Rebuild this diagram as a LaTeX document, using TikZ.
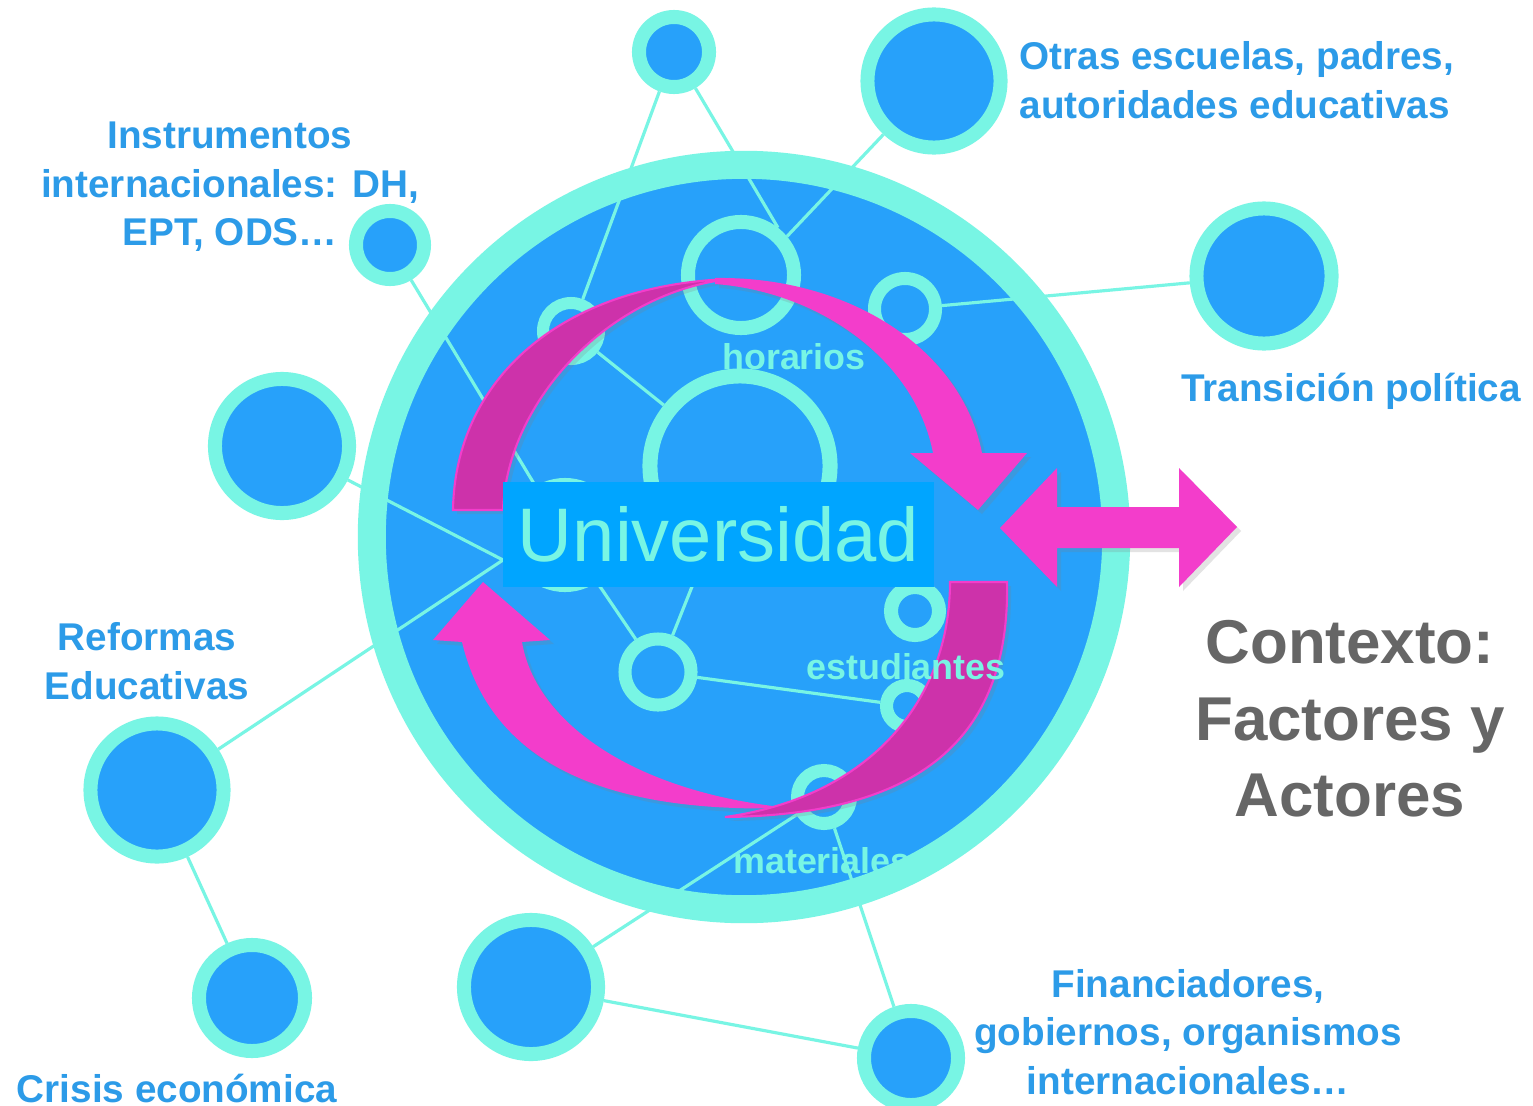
\documentclass[tikz,border=0pt]{standalone}
\usepackage{fontspec}
\setmainfont{Liberation Sans}
\usetikzlibrary{backgrounds, shadows}

\definecolor{ringcyan}{HTML}{78F5E4}
\definecolor{fillblue}{HTML}{27A1FA}
\definecolor{boxblue}{HTML}{00A5FF}
\definecolor{labelblue}{HTML}{2C9BE8}
\definecolor{ctxgray}{HTML}{666666}
\definecolor{pinklight}{HTML}{F33DCB}
\definecolor{pinkdark}{HTML}{CD32AA}

\tikzset{
  sat/.style={circle, fill=fillblue, draw=ringcyan, line width=0.14cm, inner sep=0pt},
  cell/.style={circle, fill=fillblue, draw=ringcyan, line width=0.13cm, inner sep=0pt},
  link/.style={draw=ringcyan, line width=0.9pt},
  lbl/.style={text=labelblue, font=\fontsize{11}{13.8}\selectfont\bfseries, align=center, inner sep=0pt},
  tag/.style={text=ringcyan, font=\fontsize{10.2}{12}\selectfont\bfseries, inner sep=0pt},
  ribbon/.style={drop shadow={shadow xshift=0.04cm, shadow yshift=-0.04cm, opacity=0.22}},
}

\begin{document}
\begin{tikzpicture}[x=0.01cm, y=-0.01cm]
\useasboundingbox (0,0) rectangle (1533,1106);

% factors around the university
\node[sat, minimum size=0.70cm] (topc) at (674,52) {};
\node[sat, minimum size=0.68cm] (instrc) at (390,245) {};
\node[sat, minimum size=1.34cm] (sidec) at (282,446) {};
\node[sat, minimum size=1.33cm] (otrasc) at (934,81) {};
\node[sat, minimum size=1.35cm] (transc) at (1264,276) {};
\node[sat, minimum size=1.33cm] (reformc) at (157,790) {};
\node[sat, minimum size=1.06cm] (crisisc) at (252,998) {};
\node[sat, minimum size=1.34cm] (lowc) at (531,987) {};
\node[sat, minimum size=0.94cm] (financ) at (911,1058) {};

% network inside
\node[cell, line width=0.14cm, minimum size=1.06cm] (hor) at (741,275) {};
\node[cell, minimum size=0.61cm] (smr) at (905,309) {};
\node[cell, line width=0.12cm, minimum size=0.56cm] (sml) at (571,331) {};
\node[cell, line width=0.15cm, minimum size=1.80cm] (mid) at (740,466) {};
\node[cell, line width=0.15cm, minimum size=0.99cm] (cl) at (565,535) {};
\node[cell, minimum size=0.66cm] (cf) at (658,672) {};
\node[cell, line width=0.14cm, minimum size=0.48cm] (cg) at (915,611) {};
\node[cell, minimum size=0.41cm] (ch) at (907,706) {};
\node[cell, minimum size=0.53cm] (ci) at (824,797) {};
\coordinate (hub) at (503,560);

\begin{scope}[on background layer]
\fill[white] (0,0) rectangle (1533,1106);
\node[circle, fill=fillblue, draw=ringcyan, line width=0.28cm, minimum size=7.44cm] (univ) at (744,537) {};
\draw[link] (topc) -- (sml);
\draw[link] (topc) -- (hor.52);
\draw[link] (otrasc) -- (hor.40);
\draw[link] (transc) -- (smr);
\draw[link] (sml) -- (mid);
\draw[link] (instrc) -- (cl);
\draw[link] (sidec) -- (hub);
\draw[link] (reformc) -- (hub);
\draw[link] (reformc) -- (crisisc);
\draw[link] (cl) -- (cf);
\draw[link] (cf) -- (mid);
\draw[link] (cf) -- (ch);
\draw[link] (ci) -- (lowc);
\draw[link] (ci) -- (financ);
\draw[link] (lowc) -- (financ);
\end{scope}

\node[tag] at (794,357) {horarios};
\node[tag] at (822,861) {materiales};

\node[lbl] at (230,187) {Instrumentos\\internacionales: DH,\\EPT, ODS…};
\node[lbl, align=left, anchor=west] at (1019,80) {Otras escuelas, padres,\\autoridades educativas};
\node[lbl] at (1351,391) {Transición política};
\node[lbl] at (147,661) {Reformas\\Educativas};
\node[lbl] at (177,1088) {Crisis económica};
\node[lbl] at (1188,1032) {Financiadores,\\gobiernos, organismos\\internacionales…};
\node[text=ctxgray, font=\fontsize{17.6}{21.8}\selectfont\bfseries, align=center, inner sep=0pt] at (1350,719) {Contexto:\\Factores y\\Actores};

% cycle arrows
\fill[pinkdark, draw=pinklight, line width=0.6pt, ribbon] (453,510) .. controls (455,380) and (560,285) .. (730,279) .. controls (610,292) and (507,400) .. (503,510) -- cycle;
\fill[pinklight, ribbon] (715,278) .. controls (850,276) and (962,350) .. (982,453) -- (1027,453) -- (978,510) -- (910,453) -- (933,453) .. controls (915,360) and (820,292) .. (715,284) -- cycle;
\fill[pinklight, ribbon] (483,582) -- (550,640) -- (522,642) .. controls (535,720) and (630,792) .. (790,808) .. controls (600,814) and (490,760) .. (462,642) -- (433,640) -- cycle;
\fill[pinkdark, draw=pinklight, line width=0.6pt, ribbon] (1007,582) .. controls (1010,730) and (930,815) .. (725,817) .. controls (870,797) and (950,700) .. (950,582) -- cycle;
\fill[pinklight, ribbon] (1000,528) -- (1057,468) -- (1057,507) -- (1179,507) -- (1179,468) -- (1237,527) -- (1179,587) -- (1179,548) -- (1057,548) -- (1057,587) -- cycle;

\node[tag] at (906,667) {estudiantes};

\node[fill=boxblue, minimum width=4.31cm, minimum height=1.05cm, inner sep=0pt, text=ringcyan, font=\fontsize{21.6}{24}\selectfont] (unibox) at (718.5,534.5) {Universidad};
\end{tikzpicture}
\end{document}
